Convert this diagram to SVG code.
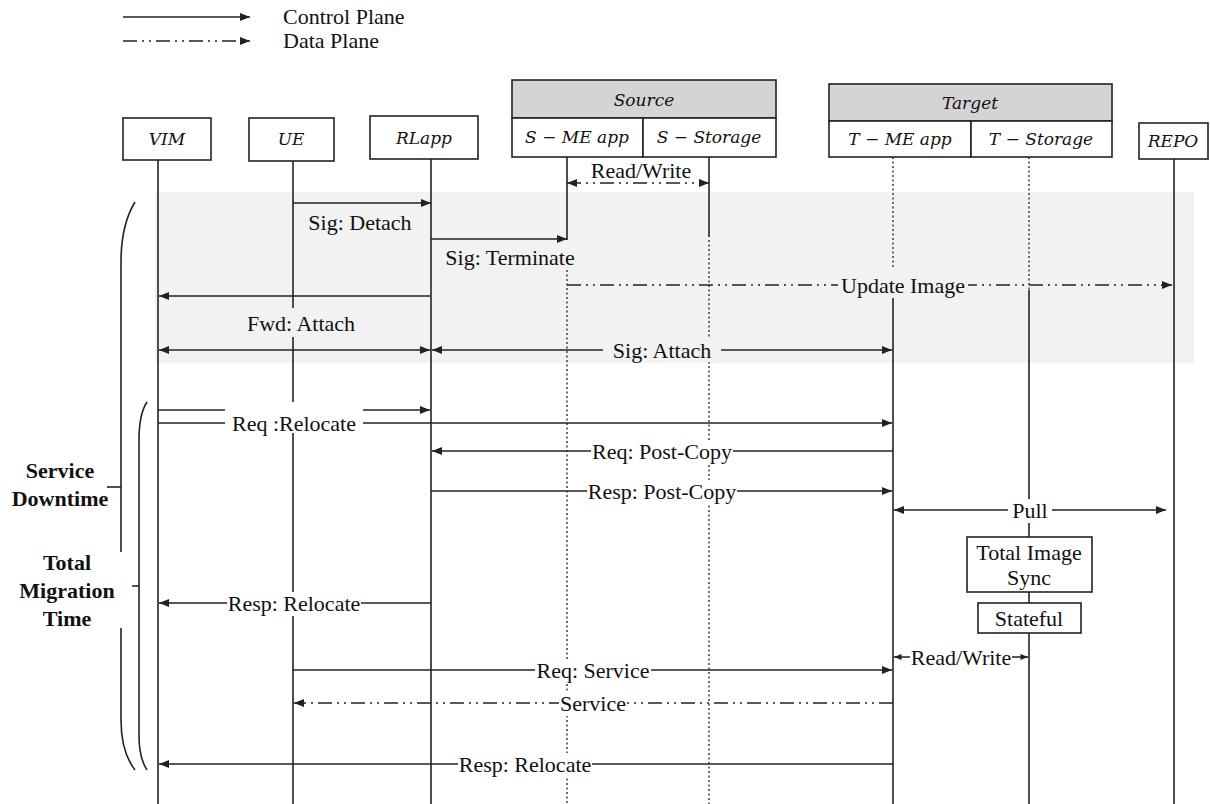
<svg xmlns="http://www.w3.org/2000/svg" width="1210" height="804" viewBox="0 0 1210 804">
<style>
.ll{stroke:#222;stroke-width:1.6;fill:none}
.dot{stroke:#333;stroke-width:1.4;stroke-dasharray:2 2.5;fill:none}
.m{stroke:#222;stroke-width:1.6;fill:none}
.dd{stroke:#222;stroke-width:1.6;fill:none;stroke-dasharray:14 5 2 5 2 5}
.box{fill:#fff;stroke:#222;stroke-width:1.6}
.hdr{fill:#d4d4d4;stroke:#222;stroke-width:1.6}
.nl{font-family:"DejaVu Serif",serif;font-style:italic;font-size:17px;fill:#111;text-anchor:middle}
.t{font-family:"Liberation Serif","Times New Roman",serif;font-size:22px;fill:#111;text-anchor:middle}
.lg{font-family:"Liberation Serif","Times New Roman",serif;font-size:22px;fill:#111}
.b{font-family:"Liberation Serif","Times New Roman",serif;font-size:22px;font-weight:bold;fill:#111;text-anchor:middle}
</style>
<defs>
<marker id="ah" viewBox="0 0 10 8" refX="10" refY="4" markerWidth="10" markerHeight="8" markerUnits="userSpaceOnUse" orient="auto-start-reverse"><path d="M0,0 L10,4 L0,8 z" fill="#222"/></marker>
<marker id="as" viewBox="0 0 10 8" refX="10" refY="4" markerWidth="8" markerHeight="6" markerUnits="userSpaceOnUse" orient="auto-start-reverse"><path d="M0,0 L10,4 L0,8 z" fill="#222"/></marker>
</defs>
<rect width="1210" height="804" fill="#fff"/>
<rect x="155" y="192" width="1039" height="171" fill="#f2f2f2"/>

<g id="legend">
<line x1="123" y1="17" x2="250" y2="17" class="m" marker-end="url(#ah)"/>
<line x1="123" y1="41" x2="250" y2="41" class="dd" marker-end="url(#ah)"/>
<text x="283" y="24" class="lg">Control Plane</text>
<text x="283" y="48" class="lg">Data Plane</text>
</g>

<g id="lifelines">
<line x1="158" y1="160" x2="158" y2="804" class="ll"/>
<line x1="293" y1="161" x2="293" y2="804" class="ll"/>
<line x1="431" y1="159" x2="431" y2="804" class="ll"/>
<line x1="567" y1="157" x2="567" y2="240" class="ll"/>
<line x1="567" y1="270" x2="567" y2="804" class="dot"/>
<line x1="709" y1="157" x2="709" y2="237" class="ll"/>
<line x1="709" y1="240" x2="709" y2="804" class="dot"/>
<line x1="893" y1="157" x2="893" y2="268" class="dot"/>
<line x1="893" y1="298" x2="893" y2="804" class="ll"/>
<line x1="1029" y1="157" x2="1029" y2="290" class="dot"/>
<line x1="1029" y1="290" x2="1029" y2="804" class="ll"/>
<line x1="1174" y1="159" x2="1174" y2="804" class="ll"/>
</g>

<g id="VIM"><rect x="123" y="118" width="88" height="42" class="box"/><text x="167" y="145" class="nl">VIM</text></g>
<g id="UE"><rect x="249" y="118" width="85" height="43" class="box"/><text x="291" y="145" class="nl">UE</text></g>
<g id="RLapp"><rect x="370" y="116" width="108" height="43" class="box"/><text x="424" y="144" class="nl">RLapp</text></g>
<g id="Source">
<rect x="512" y="80" width="264" height="38" class="hdr"/>
<text x="644" y="106" class="nl">Source</text>
<rect x="512" y="118" width="131" height="39" class="box"/>
<rect x="643" y="118" width="133" height="39" class="box"/>
<text x="577" y="143" class="nl">S − ME app</text>
<text x="709" y="143" class="nl">S − Storage</text>
</g>
<g id="Target">
<rect x="829" y="84" width="283" height="37" class="hdr"/>
<text x="970" y="109" class="nl">Target</text>
<rect x="829" y="121" width="142" height="36" class="box"/>
<rect x="971" y="121" width="141" height="36" class="box"/>
<text x="900" y="145" class="nl">T − ME app</text>
<text x="1041" y="145" class="nl">T − Storage</text>
</g>
<g id="REPO"><rect x="1139" y="123" width="69" height="36" class="box"/><text x="1173" y="147" class="nl">REPO</text></g>

<g id="braces">
<path d="M135,202 Q121,225 121,262 L121,720 Q121,752 135,770" class="m"/>
<line x1="107" y1="487" x2="121" y2="487" class="m"/>
<path d="M147,402 Q139,414 139,440 L139,735 Q139,758 147,770" class="m"/>
<line x1="132" y1="586" x2="139" y2="586" class="m"/>
</g>

<g id="connectors">
<line x1="567" y1="183" x2="709" y2="183" class="dd" marker-start="url(#ah)" marker-end="url(#ah)"/>
<line x1="293" y1="203" x2="431" y2="203" class="m" marker-end="url(#ah)"/>
<line x1="431" y1="239" x2="567" y2="239" class="m" marker-end="url(#ah)"/>
<line x1="567" y1="285" x2="1172" y2="285" class="dd" marker-end="url(#ah)"/>
<line x1="431" y1="296" x2="159" y2="296" class="m" marker-end="url(#ah)"/>
<line x1="159" y1="350" x2="430" y2="350" class="m" marker-start="url(#ah)" marker-end="url(#ah)"/>
<line x1="432" y1="350" x2="892" y2="350" class="m" marker-start="url(#ah)" marker-end="url(#ah)"/>
<line x1="158" y1="410" x2="430" y2="410" class="m" marker-end="url(#ah)"/>
<line x1="158" y1="423" x2="892" y2="423" class="m" marker-end="url(#ah)"/>
<line x1="893" y1="451" x2="432" y2="451" class="m" marker-end="url(#ah)"/>
<line x1="431" y1="491" x2="892" y2="491" class="m" marker-end="url(#ah)"/>
<line x1="894" y1="510" x2="1166" y2="510" class="m" marker-start="url(#ah)" marker-end="url(#ah)"/>
<line x1="431" y1="603" x2="159" y2="603" class="m" marker-end="url(#ah)"/>
<line x1="894" y1="657" x2="1028" y2="657" class="m" marker-start="url(#as)" marker-end="url(#as)"/>
<line x1="293" y1="670" x2="892" y2="670" class="m" marker-end="url(#ah)"/>
<line x1="893" y1="703" x2="294" y2="703" class="dd" marker-end="url(#ah)"/>
<line x1="893" y1="764" x2="159" y2="764" class="m" marker-end="url(#ah)"/>
</g>

<g id="labels">
<text x="641" y="178" class="t">Read/Write</text>
<text x="360" y="230" class="t">Sig: Detach</text>
<text x="510" y="265" class="t">Sig: Terminate</text>
<rect x="838" y="271" width="130" height="26" fill="#f2f2f2"/>
<text x="903" y="293" class="t">Update Image</text>
<rect x="244" y="308" width="114" height="29" fill="#f2f2f2"/>
<text x="301" y="331" class="t">Fwd: Attach</text>
<rect x="603" y="338" width="118" height="24" fill="#f2f2f2"/>
<text x="662" y="358" class="t">Sig: Attach</text>
<rect x="225" y="402" width="138" height="31" fill="#fff"/>
<text x="294" y="431" class="t">Req :Relocate</text>
<rect x="591" y="440" width="142" height="24" fill="#fff"/>
<text x="662" y="459" class="t">Req: Post-Copy</text>
<rect x="587" y="480" width="150" height="24" fill="#fff"/>
<text x="662" y="499" class="t">Resp: Post-Copy</text>
<rect x="1008" y="499" width="44" height="24" fill="#fff"/>
<text x="1030" y="518" class="t">Pull</text>
<rect x="227" y="592" width="134" height="24" fill="#fff"/>
<text x="294" y="611" class="t">Resp: Relocate</text>
<rect x="910" y="645" width="102" height="24" fill="#fff"/>
<text x="961" y="665" class="t">Read/Write</text>
<rect x="535" y="659" width="116" height="24" fill="#fff"/>
<text x="593" y="678" class="t">Req: Service</text>
<rect x="559" y="692" width="68" height="24" fill="#fff"/>
<text x="593" y="711" class="t">Service</text>
<rect x="458" y="753" width="134" height="24" fill="#fff"/>
<text x="525" y="772" class="t">Resp: Relocate</text>
</g>

<g id="sync">
<rect x="967" y="537" width="125" height="55" class="box"/>
<text x="1029" y="560" class="t">Total Image</text>
<text x="1029" y="585" class="t">Sync</text>
<rect x="978" y="603" width="103" height="30" class="box"/>
<text x="1029" y="626" class="t">Stateful</text>
</g>

<g id="annotations">
<text x="60" y="478" class="b">Service</text>
<text x="60" y="506" class="b">Downtime</text>
<rect x="10" y="552" width="115" height="76" fill="#fff"/>
<text x="67" y="570" class="b">Total</text>
<text x="67" y="598" class="b">Migration</text>
<text x="67" y="626" class="b">Time</text>
</g>
</svg>
